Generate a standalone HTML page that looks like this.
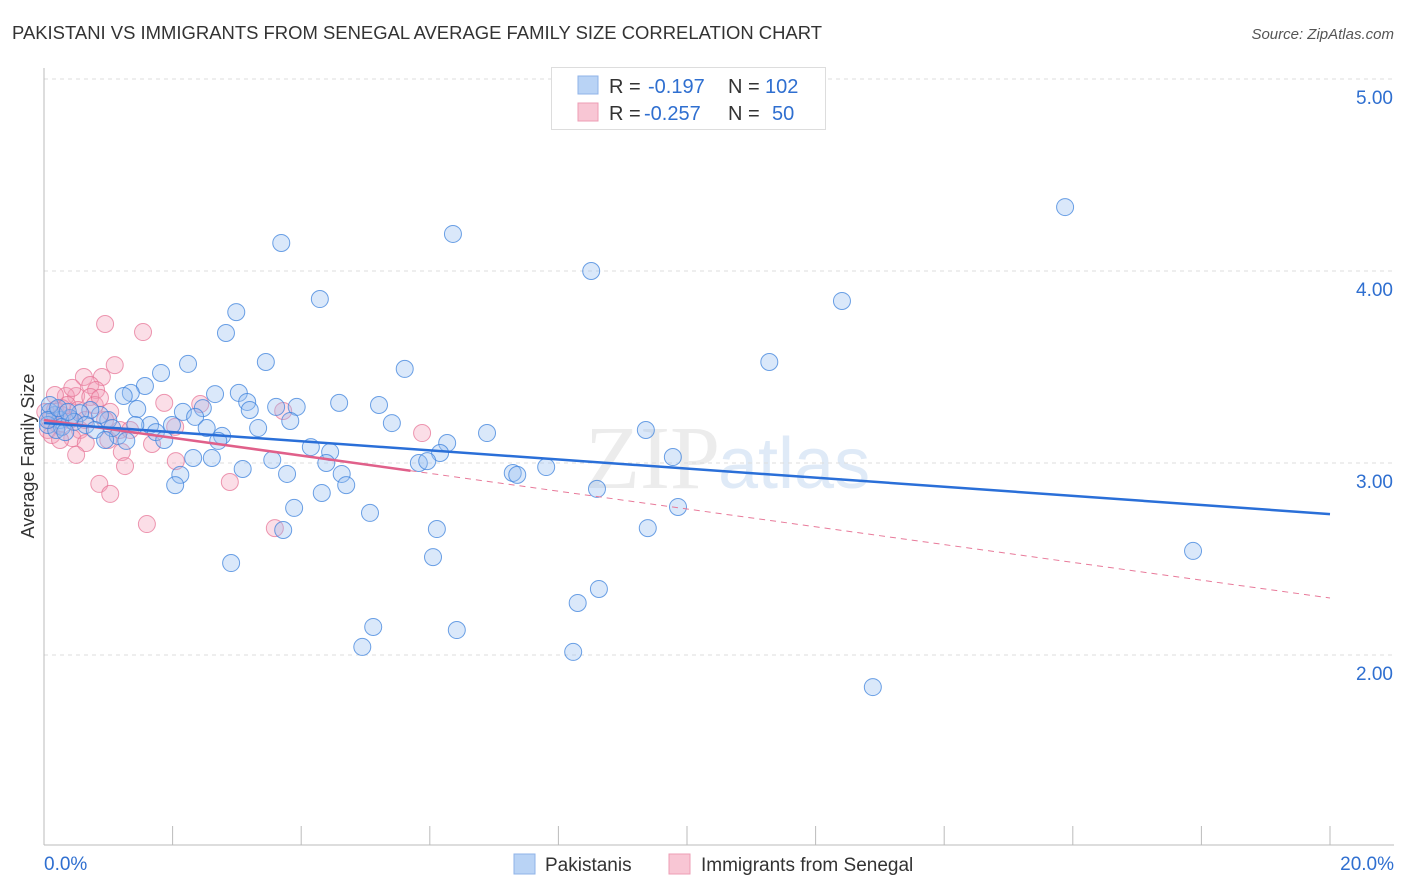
<!DOCTYPE html>
<html><head><meta charset="utf-8"><style>
body{margin:0;background:#fff;font-family:"Liberation Sans",sans-serif;}
svg{display:block}
</style></head><body>
<svg id="chart" width="1406" height="892" xmlns="http://www.w3.org/2000/svg">
<text x="12" y="39" font-size="18" fill="#333" textLength="810" lengthAdjust="spacingAndGlyphs">PAKISTANI VS IMMIGRANTS FROM SENEGAL AVERAGE FAMILY SIZE CORRELATION CHART</text>
<text x="1394" y="39" font-size="15" fill="#555" font-style="italic" text-anchor="end">Source: ZipAtlas.com</text>
<text x="720" y="488" font-size="90" fill="#ececec" text-anchor="end" font-family="Liberation Serif,serif">ZIP</text>
<text x="718" y="488" font-size="72" fill="#dfeaf7">atlas</text>
<text transform="translate(34,456) rotate(-90)" font-size="18" fill="#333" text-anchor="middle">Average Family Size</text>
<g id="grid"></g><g id="pts"></g><g id="lines"></g>
<g>
<rect x="551.5" y="67.5" width="274" height="62" fill="#fff" stroke="#ddd"/>
<rect x="578" y="76" width="20" height="18" fill="#b9d3f5" stroke="#8fb3e8"/>
<rect x="578" y="103" width="20" height="18" fill="#f8c6d4" stroke="#ee9db5"/>
<text x="609" y="93" font-size="20" fill="#333">R = <tspan fill="#2f6fd0" x="648">-0.197</tspan><tspan x="728" fill="#333">N = </tspan><tspan fill="#2f6fd0" x="765">102</tspan></text>
<text x="609" y="120" font-size="20" fill="#333">R = <tspan fill="#2f6fd0" x="644">-0.257</tspan><tspan x="728" fill="#333">N = </tspan><tspan fill="#2f6fd0" x="772">50</tspan></text>
</g>
<g>
<rect x="514" y="854" width="21" height="20" fill="#b9d3f5" stroke="#8fb3e8"/>
<text x="545" y="871" font-size="19" fill="#333">Pakistanis</text>
<rect x="669" y="854" width="21" height="20" fill="#f8c6d4" stroke="#ee9db5"/>
<text x="701" y="871" font-size="19" fill="#333">Immigrants from Senegal</text>
</g>
<text x="44" y="870" font-size="19" fill="#2f6fd0">0.0%</text>
<text x="1394" y="870" font-size="19" fill="#2f6fd0" text-anchor="end">20.0%</text>
</svg>
<script>
const yTicks=[5,4,3,2];
const yTickLabels=["5.00","4.00","3.00","2.00"];
const xTicks=[0,2,4,6,8,10,12,14,16,18,20];
const bluePx=[[281,243],[453,234],[591,271],[1065,207],[320,299],[842,301],[236,312],[226,333],[769,362],[266,362],[188,364],[405,369],[161,373],[145,386],[131,393],[124,396],[215,394],[239,393],[247,402],[339,403],[379,405],[297,407],[276,407],[203,408],[250,410],[137,409],[183,412],[195,417],[290,421],[392,423],[487,433],[646,430],[258,428],[207,428],[172,425],[150,425],[156,432],[108,420],[100,415],[90,410],[80,413],[70,418],[60,420],[55,415],[50,412],[48,425],[62,427],[74,422],[86,425],[118,436],[126,441],[164,440],[222,436],[218,441],[311,447],[330,452],[447,443],[440,453],[193,458],[212,458],[272,460],[326,463],[243,469],[287,474],[342,474],[419,463],[427,461],[513,473],[517,475],[546,467],[673,457],[180,475],[175,485],[322,493],[346,485],[597,489],[294,508],[678,507],[370,513],[437,529],[648,528],[283,530],[433,557],[231,563],[1193,551],[578,603],[599,589],[373,627],[457,630],[362,647],[573,652],[873,687],[50,405],[56,430],[65,432],[95,430],[112,428],[135,425],[105,440],[48,420],[58,408],[68,412]];
const pinkPx=[[105,324],[143,332],[115,365],[84,377],[102,377],[90,385],[96,390],[76,396],[66,396],[90,397],[110,412],[95,405],[164,403],[200,404],[283,411],[62,408],[55,410],[50,420],[58,425],[70,420],[80,430],[48,430],[52,435],[72,438],[86,443],[108,440],[152,444],[175,427],[122,452],[76,455],[125,466],[176,461],[99,484],[110,494],[230,482],[147,524],[275,528],[422,433],[62,415],[45,412],[67,405],[78,410],[105,420],[120,430],[55,395],[72,388],[100,398],[130,430],[60,440],[85,420]];
const blueX=bluePx.map(p=>+((p[0]-44)/64.3).toFixed(2));
const blueY=bluePx.map(p=>+(5-(p[1]-79)/192).toFixed(3));
const pinkX=pinkPx.map(p=>+((p[0]-44)/64.3).toFixed(2));
const pinkY=pinkPx.map(p=>+(5-(p[1]-79)/192).toFixed(3));
const blueFit=[3.208,2.734];
const pinkFit=[3.224,2.297];
const pinkSolidEnd=5.7;
const NS="http://www.w3.org/2000/svg";
const X=v=>44+v*64.3, Y=v=>79+(5-v)*192;
function mk(t,a,p){const e=document.createElementNS(NS,t);for(const k in a)e.setAttribute(k,a[k]);p.appendChild(e);return e;}
const grid=document.getElementById('grid');
yTicks.forEach((t,i)=>{const l=mk('line',{x1:44,x2:1394,y1:Y(t),y2:Y(t),stroke:'#ddd','stroke-dasharray':'4,4'},grid);


const tx=mk('text',{x:1393,y:Y(t)+25,'font-size':19,fill:'#2f6fd0','text-anchor':'end'},grid);tx.textContent=yTickLabels[i];

});
mk('line',{x1:44,x2:44,y1:68,y2:845,stroke:'#bbb'},grid);
mk('line',{x1:44,x2:1394,y1:845,y2:845,stroke:'#bbb'},grid);
xTicks.forEach(t=>{const l=mk('line',{x1:X(t),x2:X(t),y1:826,y2:845,stroke:'#bbb'},grid);

});
const pts=document.getElementById('pts');
pinkX.forEach((x,i)=>{const c=mk('circle',{cx:X(x),cy:Y(pinkY[i]),r:8.5,fill:'rgba(244,160,185,0.35)',stroke:'rgba(230,110,145,0.7)','stroke-width':1},pts);

});
blueX.forEach((x,i)=>{const c=mk('circle',{cx:X(x),cy:Y(blueY[i]),r:8.5,fill:'rgba(150,190,240,0.35)',stroke:'rgba(60,130,220,0.75)','stroke-width':1},pts);

});
const ln=document.getElementById('lines');
const pf=x=>pinkFit[0]+(pinkFit[1]-pinkFit[0])*x/20;
let a=mk('line',{x1:X(pinkSolidEnd),y1:Y(pf(pinkSolidEnd)),x2:X(20),y2:Y(pinkFit[1]),stroke:'#e87a9a','stroke-width':1,'stroke-dasharray':'6,5'},ln);


let b=mk('line',{x1:X(0),y1:Y(pinkFit[0]),x2:X(pinkSolidEnd),y2:Y(pf(pinkSolidEnd)),stroke:'#e0608a','stroke-width':2.5},ln);


let c=mk('line',{x1:X(0),y1:Y(blueFit[0]),x2:X(20),y2:Y(blueFit[1]),stroke:'#2a6fd8','stroke-width':2.5},ln);


</script>
</body></html>
